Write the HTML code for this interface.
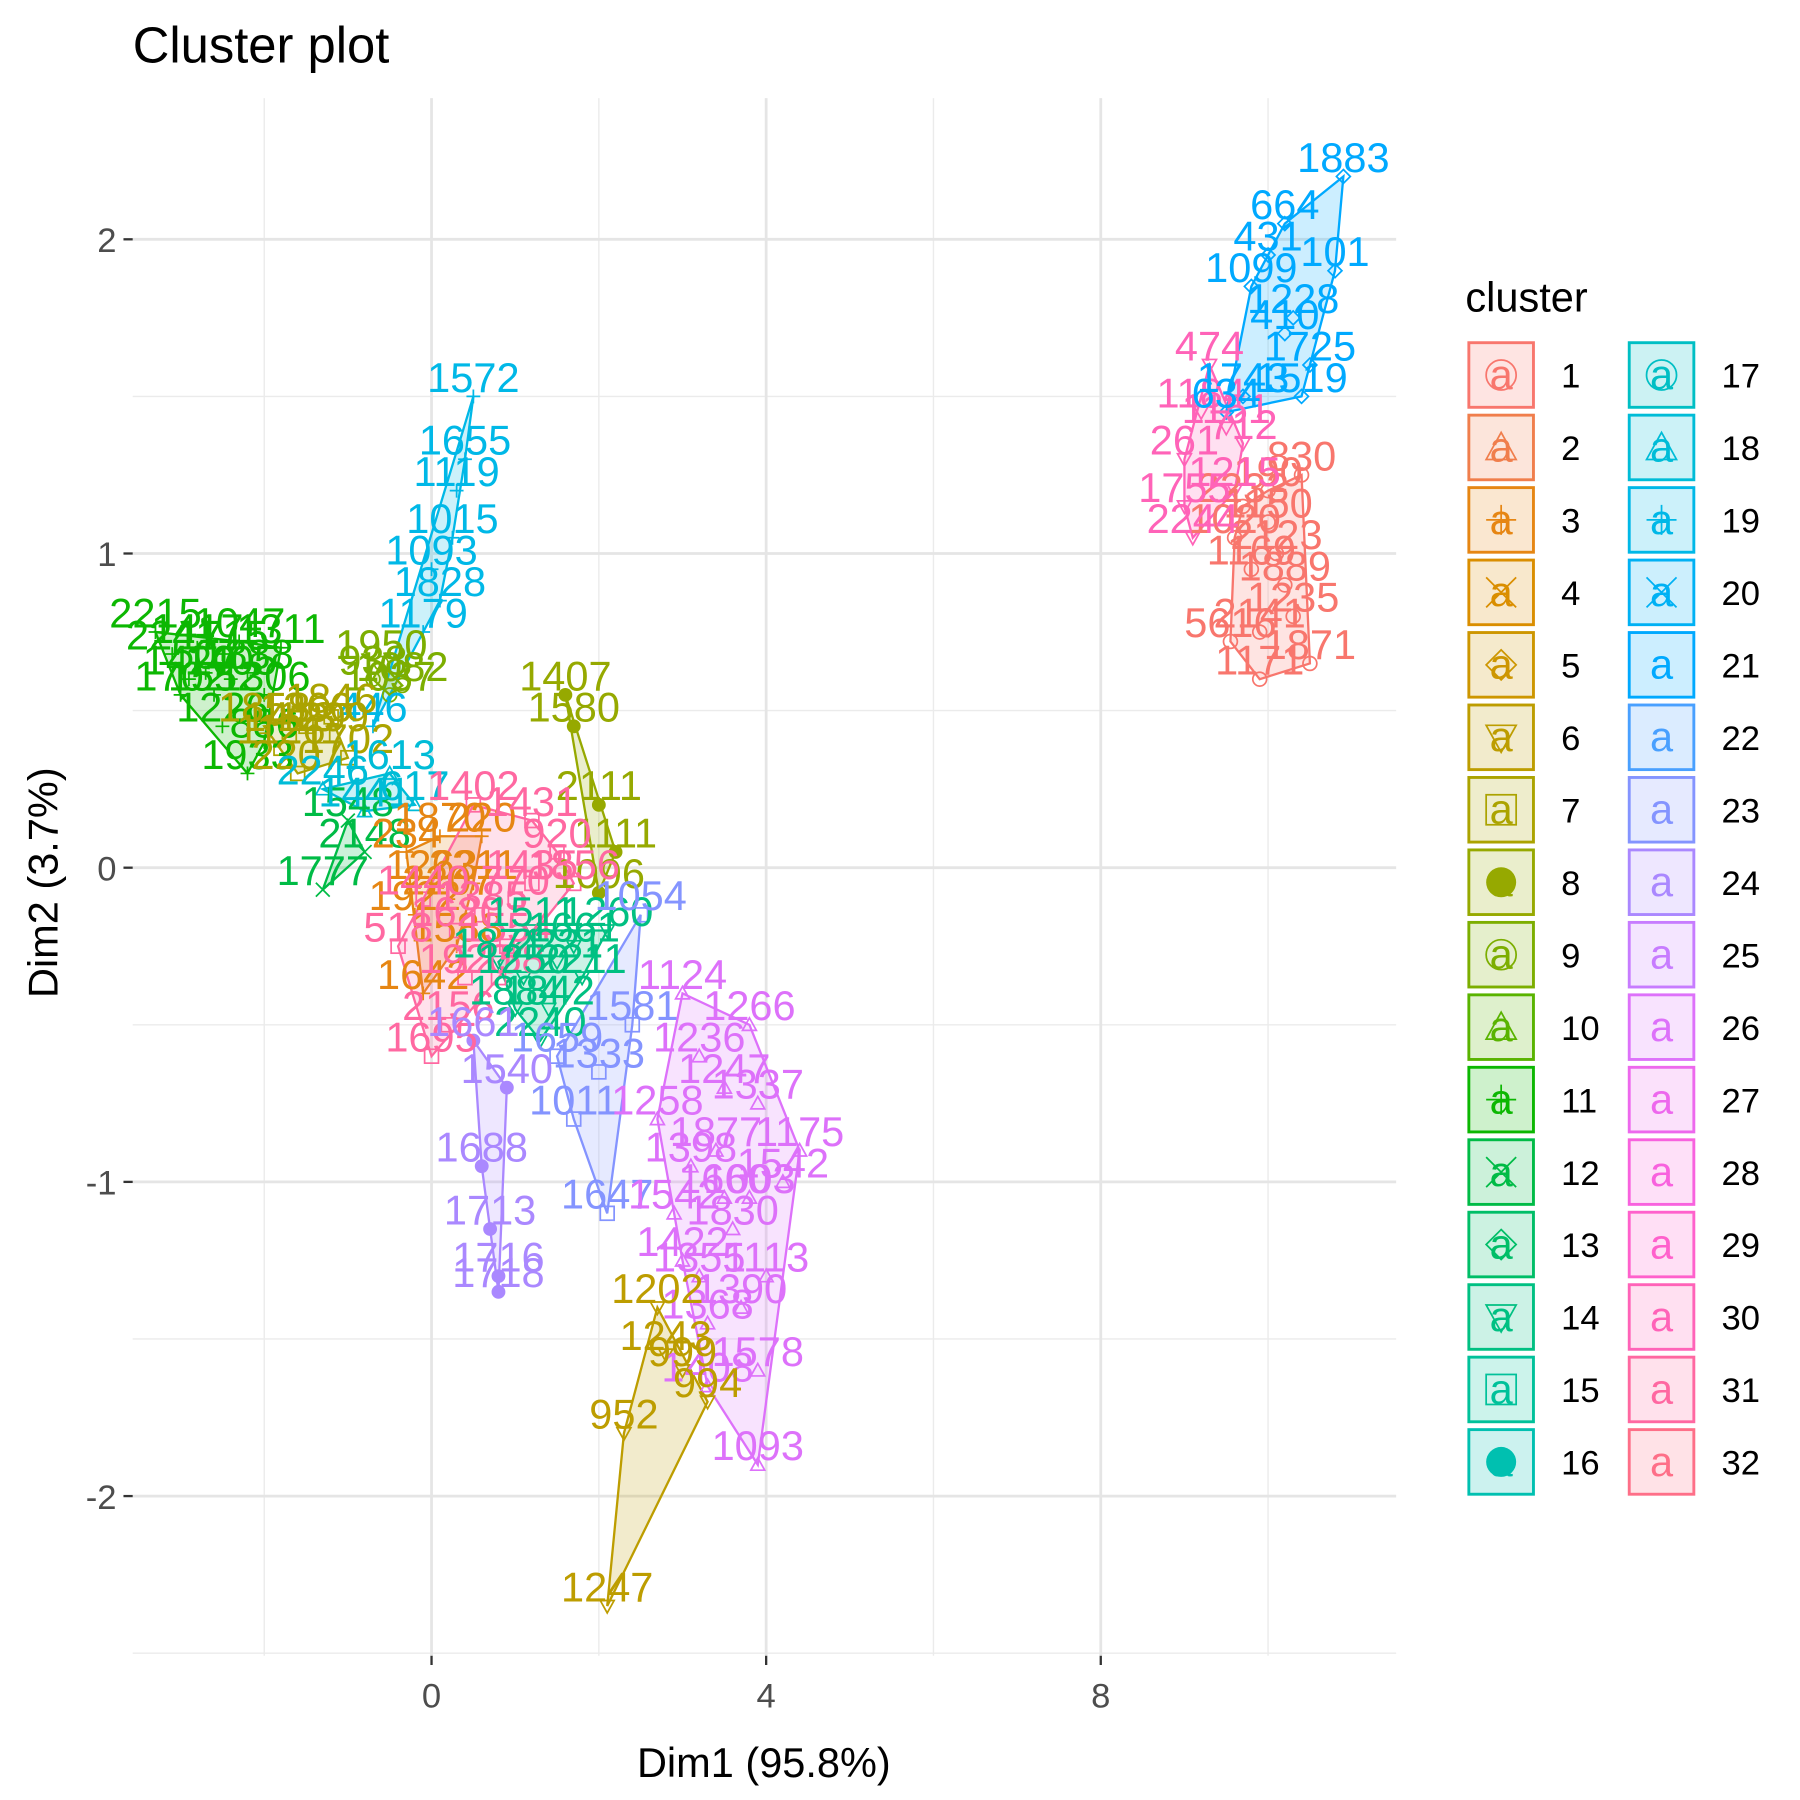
<!DOCTYPE html>
<html><head><meta charset="utf-8"><style>
html,body{margin:0;padding:0;background:#fff;}
svg{display:block;font-family:"Liberation Sans",Arial,sans-serif;}
</style></head><body>
<svg id="chart" width="1800" height="1800" viewBox="0 0 1560 1560" xmlns="http://www.w3.org/2000/svg">
<rect x="0" y="0" width="1560" height="1560" fill="#fff"/>
<text x="115" y="54" font-size="44" fill="#000">Cluster plot</text>
<g id="grid"></g><g id="hulls"></g><g id="points"></g><g id="labels"></g><g id="axes"></g><g id="legend"></g>
<text x="662" y="1540" font-size="36" text-anchor="middle" fill="#000">Dim1 (95.8%)</text>
<text transform="translate(50,765) rotate(-90)" font-size="36" text-anchor="middle" fill="#000">Dim2 (3.7%)</text>
</svg>
<script>
const xTicks=[0,4,8];
const xMinor=[-2,2,6,10];
const yTicks=[2,1,0,-1,-2];
const yMinor=[1.5,0.5,-0.5,-1.5];
const clusterIds=[1,30,21,19,9,11,7,12,18,8,3,31,14,23,24,26,6];
const clusterPoints=[
[[9.9,0.6],[10.0,1.2],[10.5,0.65],[9.55,0.72],[10.2,0.9],[10.4,1.25],[9.9,0.75],[10.1,1.0],[10.3,0.8],[9.6,1.05],[9.8,0.95],[10.0,1.1],[9.7,1.15]],
[[9.0,1.3],[9.3,1.6],[9.2,1.45],[9.5,1.4],[9.0,1.15],[9.1,1.05],[9.7,1.35],[9.6,1.2]],
[[10.9,2.2],[10.2,2.05],[10.0,1.95],[10.8,1.9],[9.8,1.85],[10.3,1.75],[10.5,1.6],[10.4,1.5],[9.7,1.5],[9.5,1.45],[10.2,1.7]],
[[0.5,1.5],[0.4,1.3],[0.3,1.2],[0.25,1.05],[0.0,0.95],[0.1,0.85],[-0.1,0.75],[-0.7,0.45]],
[[-0.6,0.65],[-0.5,0.55],[-0.7,0.6],[-0.35,0.58]],
[[-3.3,0.75],[-2.3,0.72],[-1.8,0.7],[-3.0,0.55],[-2.5,0.45],[-2.2,0.3],[-2.0,0.4],[-2.7,0.62],[-2.4,0.6],[-3.1,0.68],[-2.8,0.7],[-2.6,0.55],[-2.2,0.62],[-2.0,0.55],[-2.9,0.6],[-2.5,0.68]],
[[-2.0,0.45],[-1.2,0.48],[-1.0,0.35],[-1.6,0.3],[-1.3,0.42],[-1.8,0.38],[-1.5,0.45],[-1.7,0.42]],
[[-1.3,-0.07],[-1.0,0.15],[-0.8,0.05]],
[[-1.3,0.25],[-0.5,0.3],[-0.2,0.2],[-0.8,0.18]],
[[1.6,0.55],[1.7,0.45],[2.0,0.2],[2.2,0.05],[2.0,-0.08]],
[[-0.3,0.05],[0.1,0.1],[0.5,-0.05],[-0.2,-0.15],[0.3,-0.25],[-0.1,-0.4],[0.6,0.1],[0.0,-0.05],[0.2,-0.1]],
[[0.5,0.2],[1.2,0.15],[1.5,0.05],[1.7,-0.05],[0.2,-0.5],[0.0,-0.6],[0.8,-0.35],[-0.4,-0.25],[1.0,-0.1],[-0.1,-0.1],[0.3,-0.2],[0.6,-0.15],[0.9,-0.25],[1.2,-0.05],[0.4,-0.35]],
[[0.8,-0.3],[1.3,-0.55],[2.1,-0.2],[1.8,-0.35],[1.2,-0.2],[1.0,-0.45],[1.5,-0.3],[1.7,-0.25],[1.1,-0.35],[1.4,-0.45]],
[[2.5,-0.15],[2.1,-1.1],[1.7,-0.8],[1.5,-0.6],[2.4,-0.5],[2.0,-0.65]],
[[0.5,-0.55],[0.6,-0.95],[0.7,-1.15],[0.8,-1.3],[0.9,-0.7],[0.8,-1.35]],
[[3.0,-0.4],[3.8,-0.5],[4.4,-0.9],[3.9,-1.9],[3.3,-1.65],[3.6,-1.15],[2.7,-0.8],[3.2,-1.3],[4.0,-1.3],[3.4,-0.9],[3.8,-1.05],[2.9,-1.1],[3.2,-0.6],[3.5,-0.7],[3.9,-0.75],[4.2,-1.0],[3.1,-0.95],[3.5,-1.05],[3.3,-1.45],[3.7,-1.4],[3.0,-1.25],[3.9,-1.6]],
[[2.1,-2.35],[2.3,-1.8],[2.7,-1.4],[3.3,-1.7],[2.8,-1.55],[3.0,-1.6]]
];
const clusterLabels=[
["1171","190","1871","5616","1889","830","2141","2123","1235","1020","1169","1150","2233"],
["261","474","1184","1151","1755","2244","712","1215"],
["1883","664","431","101","1099","1228","1725","1519","1743","634","410"],
["1572","1655","1119","1015","1093","1828","1179","446"],
["1950","1037","938","1082"],
["2215","1047","1311","1702","1226","1933","886","507","1405","2241","1417","1552","1888","1306","1420","1715"],
["1858","1846","1702","2207","1299","1126","1366","1418"],
["1777","1548","2148"],
["2246","1613","617","1441"],
["1407","1580","2111","1111","1096"],
["234","1870","2211","1922","1588","1642","220","1263","2207"],
["1402","1431","920","1856","2156","1695","1258","518","770","1440","1620","1385","1554","1435","1920"],
["1871","2240","1260","2211","1511","1884","2221","1661","1250","1842"],
["1054","1647","1011","1659","1581","1333"],
["1661","1688","1713","1716","1540","1718"],
["1124","1266","1175","1093","1408","1830","1258","1355","1113","1877","1003","1542","1236","1247","1337","1542","1398","1660","1368","1390","1422","1578"],
["1247","952","1202","994","1243","999"]
];
const legendIds=Array.from({length:32},(_,i)=>i+1);

const NS="http://www.w3.org/2000/svg";
const X0=115,X1=1210,Y0=85,Y1=1435;
function sx(v){return 374+v*72.5;}
function sy(v){return 752-v*272.3;}
function hcl(h){const L=65,C=100,hr=h*Math.PI/180;const u=C*Math.cos(hr),v=C*Math.sin(hr);
 const Xn=95.047,Yn=100,Zn=108.883;const d=Xn+15*Yn+3*Zn;const un=4*Xn/d,vn=9*Yn/d;
 const Y=Yn*Math.pow((L+16)/116,3);const up=u/(13*L)+un,vp=v/(13*L)+vn;
 const X=Y*9*up/(4*vp),Z=Y*(12-3*up-20*vp)/(4*vp);
 const x=X/100,y=Y/100,z=Z/100;
 let r=3.2406*x-1.5372*y-0.4986*z,g=-0.9689*x+1.8758*y+0.0415*z,b=0.0557*x-0.2040*y+1.0570*z;
 const gm=c=>{c=c<=0.0031308?12.92*c:1.055*Math.pow(c,1/2.4)-0.055;return Math.round(255*Math.min(1,Math.max(0,c)));};
 return "rgb("+gm(r)+","+gm(g)+","+gm(b)+")";}
function col(k){return hcl(15+(k-1)*360/32);}
function mk(tag,attrs,parent){const e=document.createElementNS(NS,tag);for(const k in attrs)e.setAttribute(k,attrs[k]);parent.appendChild(e);return e;}
function hull(pts){const p=pts.slice().sort((a,b)=>a[0]-b[0]||a[1]-b[1]);if(p.length<3)return p;
 const cr=(o,a,b)=>(a[0]-o[0])*(b[1]-o[1])-(a[1]-o[1])*(b[0]-o[0]);const lo=[],up=[];
 for(const q of p){while(lo.length>=2&&cr(lo[lo.length-2],lo[lo.length-1],q)<=0)lo.pop();lo.push(q);}
 for(let i=p.length-1;i>=0;i--){const q=p[i];while(up.length>=2&&cr(up[up.length-2],up[up.length-1],q)<=0)up.pop();up.push(q);}
 up.pop();lo.pop();return lo.concat(up);}
function shape(g,k,x,y,c,s){const t=(k-1)%8;
 if(t===0){mk("circle",{cx:x,cy:y,r:s,fill:"none",stroke:c,"stroke-width":1.5},g);}
 else if(t===1){mk("polygon",{points:`${x},${y-s} ${x-s},${y+s*0.8} ${x+s},${y+s*0.8}`,fill:"none",stroke:c,"stroke-width":1.5},g);}
 else if(t===2){mk("path",{d:`M${x-s},${y}H${x+s}M${x},${y-s}V${y+s}`,stroke:c,"stroke-width":1.5},g);}
 else if(t===3){mk("path",{d:`M${x-s},${y-s}L${x+s},${y+s}M${x-s},${y+s}L${x+s},${y-s}`,stroke:c,"stroke-width":1.5},g);}
 else if(t===4){mk("polygon",{points:`${x},${y-s} ${x+s},${y} ${x},${y+s} ${x-s},${y}`,fill:"none",stroke:c,"stroke-width":1.5},g);}
 else if(t===5){mk("polygon",{points:`${x},${y+s} ${x-s},${y-s*0.8} ${x+s},${y-s*0.8}`,fill:"none",stroke:c,"stroke-width":1.5},g);}
 else if(t===6){mk("rect",{x:x-s,y:y-s,width:2*s,height:2*s,fill:"none",stroke:c,"stroke-width":1.5},g);}
 else {mk("circle",{cx:x,cy:y,r:s,fill:c},g);}}

const grid=document.getElementById("grid");
for(const v of xMinor){const l=mk("line",{x1:sx(v),x2:sx(v),y1:Y0,y2:Y1,stroke:"#ebebeb","stroke-width":1.2},grid);}
for(const v of yMinor.concat([-2.5])){const l=mk("line",{x1:X0,x2:X1,y1:sy(v),y2:sy(v),stroke:"#ebebeb","stroke-width":1.2},grid);}
for(const v of xTicks){const l=mk("line",{x1:sx(v),x2:sx(v),y1:Y0,y2:Y1,stroke:"#e5e5e5","stroke-width":2.4},grid);}
for(const v of yTicks){const l=mk("line",{x1:X0,x2:X1,y1:sy(v),y2:sy(v),stroke:"#e5e5e5","stroke-width":2.4},grid);}

const axes=document.getElementById("axes");
for(const v of xTicks){const t=mk("line",{x1:sx(v),x2:sx(v),y1:Y1,y2:Y1+8,stroke:"#333","stroke-width":2},axes);
 const tx=mk("text",{x:sx(v),y:Y1+45,"font-size":30,"text-anchor":"middle",fill:"#4d4d4d"},axes);tx.textContent=v;}
for(const v of yTicks){const t=mk("line",{x1:X0-8,x2:X0,y1:sy(v),y2:sy(v),stroke:"#333","stroke-width":2},axes);
 const tx=mk("text",{x:X0-14,y:sy(v)+11,"font-size":30,"text-anchor":"end",fill:"#4d4d4d"},axes);tx.textContent=v;}

const hg=document.getElementById("hulls"),pg=document.getElementById("points"),lg=document.getElementById("labels");
clusterIds.forEach((k,i)=>{const c=col(k);const pts=clusterPoints[i];
 const h=hull(pts).map(p=>sx(p[0])+","+sy(p[1])).join(" ");
 const poly=mk("polygon",{points:h,fill:c,"fill-opacity":0.2,stroke:c,"stroke-width":2},hg);
 
 pts.forEach((p,j)=>{const g=mk("g",{},pg);
  shape(g,k,sx(p[0]),sy(p[1]),c,6);
  const t=mk("text",{x:sx(p[0]),y:sy(p[1])-4,"font-size":36,"text-anchor":"middle",fill:c},lg);t.textContent=clusterLabels[i][j];
  });
});

const leg=document.getElementById("legend");
const lt=mk("text",{x:1270,y:270,"font-size":36,fill:"#000"},leg);lt.textContent="cluster";
legendIds.forEach((k,i)=>{const colI=i<16?0:1,row=i%16;const cx=colI?1440:1301,cy=325+row*62.8;const c=col(k);
 const g=mk("g",{},leg);
 mk("rect",{x:cx-28,y:cy-28,width:56,height:56,fill:c,"fill-opacity":0.2,stroke:c,"stroke-width":2.5},g);
 const a=mk("text",{x:cx,y:cy+12,"font-size":36,"text-anchor":"middle",fill:c},g);a.textContent="a";
 if(k<=20)shape(g,k,cx,cy,c,13);
 const t=mk("text",{x:colI?1492:1353,y:cy+11,"font-size":30,fill:"#000"},g);t.textContent=k;});
</script>
</body></html>
